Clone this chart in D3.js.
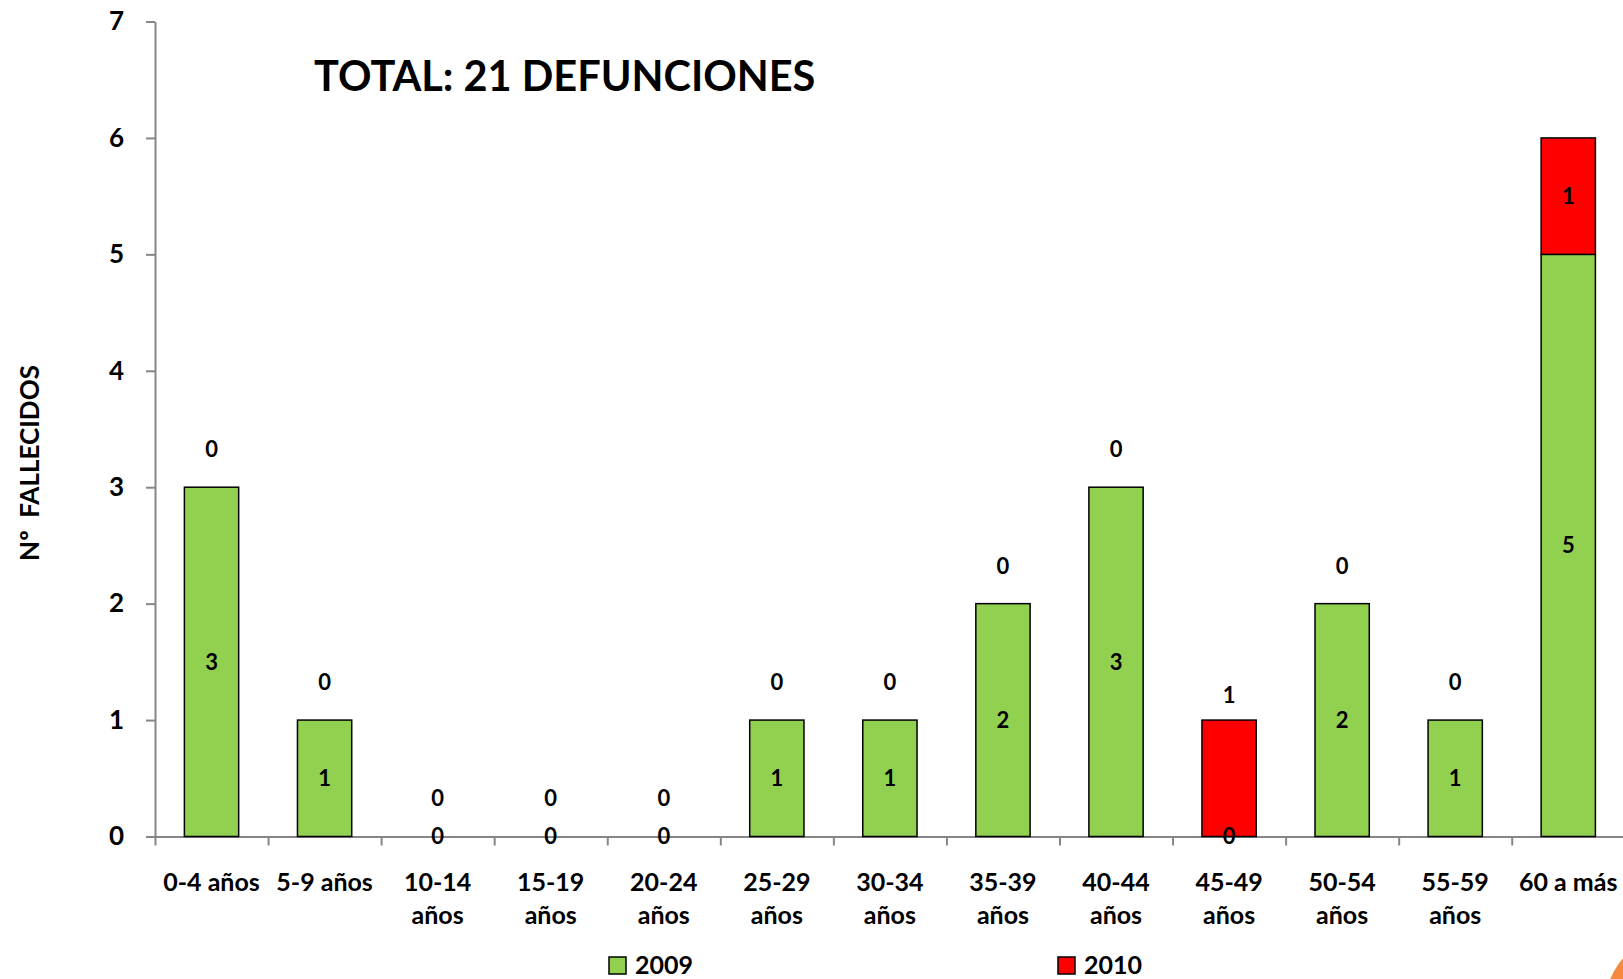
<!DOCTYPE html>
<html lang="es">
<head>
<meta charset="utf-8">
<title>Defunciones por grupo de edad</title>
<script src="https://d3js.org/d3.v7.min.js"></script>
<style>
  body { margin: 0; background: #fff; }
  svg text { font-family: Lato, "Open Sans", sans-serif; font-weight: bold; fill: #000; }
  .axis path, .axis line { stroke: #868686; stroke-width: 2; }
</style>
</head>
<body>
<script>
// categories and series
var categories = ["0-4 años", "5-9 años", "10-14 años", "15-19 años", "20-24 años", "25-29 años",
                  "30-34 años", "35-39 años", "40-44 años", "45-49 años", "50-54 años", "55-59 años", "60 a más"];
var values2009 = [3, 1, 0, 0, 0, 1, 1, 2, 3, 0, 2, 1, 5];
var values2010 = [0, 0, 0, 0, 0, 0, 0, 0, 0, 1, 0, 0, 1];
var seriesNames = ["2009", "2010"];
var yTicks = [0, 1, 2, 3, 4, 5, 6, 7];
var title = "TOTAL: 21 DEFUNCIONES";
var yTitle = "Nº  FALLECIDOS";

var w = 1623, h = 979;
var plotLeft = 155, plotRight = 1624.8, plotTop = 21.5, plotBottom = 836.5;
var colors = ["#92D050", "#FF0000"];

var svg = d3.select("body").append("svg")
    .attr("width", w)
    .attr("height", h);

// decoration bottom right
svg.append("circle")
    .attr("cx", 1684).attr("cy", 1010).attr("r", 80)
    .attr("fill", "#F68A3C");

var x = d3.scaleBand()
    .domain(categories)
    .range([plotLeft, plotRight])
    .paddingInner(0.52)
    .paddingOuter(0.26);

var xIdx = d3.scaleLinear()
    .domain([0, categories.length])
    .range([plotLeft, plotRight]);

var y = d3.scaleLinear()
    .domain([0, 7])
    .range([plotBottom, plotTop]);

// stacked data
var rows = categories.map(function(c, i) {
    return { cat: c, v2009: values2009[i], v2010: values2010[i] };
});
var stack = d3.stack().keys(["v2009", "v2010"])(rows);

// y axis
var yAxis = svg.append("g")
    .attr("class", "axis")
    .attr("transform", "translate(" + plotLeft + ",0)")
    .call(d3.axisLeft(y).tickValues(yTicks).tickFormat(d3.format("d")).tickSize(9).tickPadding(22).tickSizeOuter(0));
yAxis.selectAll("text").attr("font-size", "26px").attr("font-family", null).style("fill", "#000");

// x axis (tick marks between categories)
svg.append("g")
    .attr("class", "axis")
    .attr("transform", "translate(0," + plotBottom + ")")
    .call(d3.axisBottom(xIdx).tickValues(d3.range(categories.length + 1)).tickSize(9).tickSizeOuter(0).tickFormat(""));

// bars
svg.selectAll("g.series")
    .data(stack)
    .enter()
    .append("g")
    .attr("class", "series")
    .attr("fill", function(d, i) { return colors[i]; })
    .selectAll("rect")
    .data(function(d) { return d.filter(function(p) { return p[1] - p[0] > 0; }); })
    .enter()
    .append("rect")
    .attr("x", function(d) { return x(d.data.cat); })
    .attr("width", x.bandwidth())
    .attr("y", function(d) { return y(d[1]); })
    .attr("height", function(d) { return y(d[0]) - y(d[1]); })
    .attr("stroke", "#000")
    .attr("stroke-width", 1.5);

// value labels
var labels = svg.append("g").attr("font-size", "22px").attr("text-anchor", "middle");
stack[0].forEach(function(p) {
    labels.append("text")
        .attr("x", x(p.data.cat) + x.bandwidth() / 2)
        .attr("y", y((p[0] + p[1]) / 2))
        .attr("dy", "0.36em")
        .text(p.data.v2009);
});
stack[1].forEach(function(p) {
    var ly;
    if (p.data.v2010 > 0 && p.data.v2009 > 0) ly = y((p[0] + p[1]) / 2);
    else if (p.data.v2010 > 0) ly = y(p[1]) - 25;
    else ly = y(p[1]) - 38;
    labels.append("text")
        .attr("x", x(p.data.cat) + x.bandwidth() / 2)
        .attr("y", ly)
        .attr("dy", "0.36em")
        .text(p.data.v2010);
});

// category labels
var catLabels = svg.append("g").attr("font-size", "25px").attr("text-anchor", "middle");
categories.forEach(function(c) {
    var lines = c.length > 8 ? [c.slice(0, c.lastIndexOf(" ")), c.slice(c.lastIndexOf(" ") + 1)] : [c];
    var t = catLabels.append("text")
        .attr("x", x(c) + x.bandwidth() / 2)
        .attr("y", 890.5);
    lines.forEach(function(l, j) {
        t.append("tspan")
            .attr("x", x(c) + x.bandwidth() / 2)
            .attr("dy", j === 0 ? 0 : 33)
            .text(l);
    });
});

// title
svg.append("text")
    .attr("x", 314)
    .attr("y", 91)
    .attr("font-size", "41.5px")
    .text(title);

// y axis title
svg.append("text")
    .attr("transform", "translate(39,463) rotate(-90)")
    .attr("text-anchor", "middle")
    .attr("font-size", "26px")
    .style("white-space", "pre")
    .text(yTitle);

// legend
var legendX = [609, 1058];
seriesNames.forEach(function(s, i) {
    var g = svg.append("g").attr("transform", "translate(" + legendX[i] + ",957)");
    g.append("rect")
        .attr("width", 17).attr("height", 17)
        .attr("fill", colors[i])
        .attr("stroke", "#000").attr("stroke-width", 1.5);
    g.append("text")
        .attr("x", 26).attr("y", 16.5)
        .attr("font-size", "25px")
        .text(s);
});
</script>
</body>
</html>
